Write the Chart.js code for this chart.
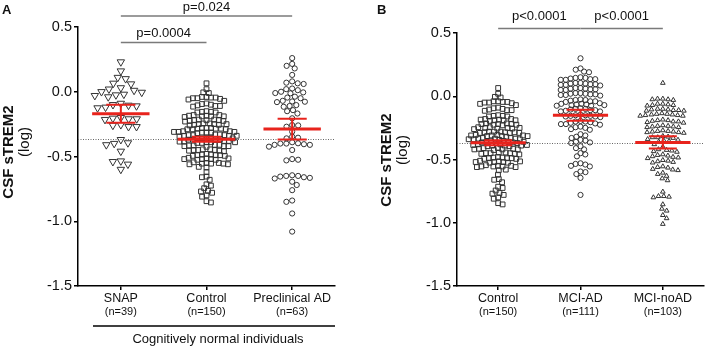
<!DOCTYPE html>
<html>
<head>
<meta charset="utf-8">
<script src="https://cdn.jsdelivr.net/npm/chart.js@4.4.0/dist/chart.umd.min.js"></script>
<style>
  body { margin: 0; background: #fff; width: 709px; height: 347px; position: relative; overflow: hidden; }
  #wrapA { position: absolute; left: 0; top: 0; width: 360px; height: 347px; }
  #wrapB { position: absolute; left: 360px; top: 0; width: 349px; height: 347px; }
</style>
</head>
<body>
<div id="wrapA"><canvas id="chartA"></canvas></div>
<div id="wrapB"><canvas id="chartB"></canvas></div>
<script>
// ================= DATA =================
const catsA = ["SNAP", "Control", "Preclinical AD"];
const nA = ["(n=39)", "(n=150)", "(n=63)"];
const catsB = ["Control", "MCI-AD", "MCI-noAD"];
const nB = ["(n=150)", "(n=111)", "(n=103)"];
const yTicks = [-1.5, -1.0, -0.5, 0.0, 0.5];

// CSF sTREM2 (log), one value per individual
const snap = [0.23, 0.16, 0.11, 0.10, 0.065, 0.06, 0.03, 0.02, 0.01, 0.0, -0.005, -0.02, -0.025, -0.03, -0.04,
  -0.09, -0.10, -0.105, -0.12, -0.125, -0.11, -0.20, -0.205, -0.21, -0.215, -0.21, -0.255, -0.27, -0.27, -0.26,
  -0.37, -0.40, -0.41, -0.395, -0.46, -0.54, -0.535, -0.56, -0.60];

const control = [0.065, 0.02, -0.005, -0.01, -0.07,
  -0.04, -0.045, -0.04, -0.045, -0.05, -0.055, -0.05, -0.06,
  -0.09, -0.095, -0.10, -0.105, -0.11, -0.11, -0.115,
  -0.15, -0.155, -0.155, -0.16, -0.16,
  -0.18, -0.18, -0.185, -0.185, -0.19, -0.19, -0.195, -0.19,
  -0.215, -0.215, -0.22, -0.22, -0.22, -0.225, -0.225, -0.23,
  -0.245, -0.245, -0.25, -0.25, -0.25, -0.255, -0.255, -0.26,
  -0.28, -0.28, -0.28, -0.285, -0.285, -0.285, -0.29, -0.29, -0.29,
  -0.305, -0.305, -0.31, -0.31, -0.31, -0.315, -0.315, -0.315, -0.32,
  -0.33, -0.33, -0.335, -0.335, -0.335, -0.34, -0.34, -0.34, -0.345,
  -0.355, -0.355, -0.36, -0.36, -0.36, -0.365, -0.365, -0.37, -0.37,
  -0.38, -0.38, -0.385, -0.385, -0.39, -0.39, -0.39, -0.395, -0.395,
  -0.41, -0.41, -0.415, -0.415, -0.42, -0.42, -0.42, -0.425,
  -0.445, -0.445, -0.45, -0.45, -0.45, -0.455, -0.455, -0.46,
  -0.48, -0.485, -0.485, -0.49, -0.49, -0.49, -0.495, -0.495,
  -0.51, -0.515, -0.515, -0.52, -0.52, -0.52, -0.525, -0.525,
  -0.545, -0.55, -0.55, -0.555, -0.555, -0.555, -0.56, -0.56,
  -0.58, -0.585, -0.62, -0.655, -0.66, -0.68, -0.715, -0.725, -0.745,
  -0.765, -0.77, -0.78, -0.80, -0.81, -0.845, -0.855];

const preclinical = [0.26, 0.215, 0.20, 0.18, 0.13, 0.08, 0.07, 0.065, 0.06, 0.025, 0.02, 0.012, 0.0, -0.005,
  -0.01, -0.012, -0.038, -0.045, -0.05, -0.07, -0.075, -0.077, -0.08, -0.103, -0.11, -0.116, -0.142, -0.15, -0.168,
  -0.205, -0.257, -0.26, -0.27, -0.308, -0.347, -0.355, -0.36, -0.39, -0.398, -0.40, -0.40, -0.405, -0.41, -0.41,
  -0.424, -0.45, -0.52, -0.525, -0.53, -0.65, -0.65, -0.655, -0.66, -0.665, -0.67, -0.645, -0.695, -0.72, -0.76,
  -0.84, -0.85, -0.94, -1.08];

const mciAD = [0.30, 0.22, 0.21, 0.195, 0.19,
  0.145, 0.145, 0.14, 0.135, 0.135, 0.13, 0.13, 0.15,
  0.105, 0.10, 0.10, 0.095, 0.095, 0.09, 0.09, 0.085, 0.105,
  0.065, 0.06, 0.06, 0.055, 0.055, 0.05, 0.05, 0.065,
  0.025, 0.02, 0.02, 0.015, 0.015, 0.01, 0.01, 0.005, 0.025,
  -0.025, -0.03, -0.03, -0.035, -0.04, -0.04, -0.045,
  -0.055, -0.06, -0.06, -0.065, -0.065, -0.07, -0.07, -0.075, -0.075,
  -0.095, -0.10, -0.10, -0.105, -0.11, -0.11, -0.115, -0.12, -0.12,
  -0.145, -0.15, -0.15, -0.155, -0.155, -0.16, -0.16, -0.165,
  -0.195, -0.20, -0.20, -0.205, -0.21, -0.215, -0.22, -0.22, -0.225,
  -0.24, -0.245, -0.25, -0.26, -0.265, -0.30, -0.31, -0.32, -0.33,
  -0.345, -0.35, -0.36, -0.365, -0.37, -0.395, -0.41, -0.42, -0.45, -0.46, -0.475,
  -0.53, -0.535, -0.54, -0.55, -0.555, -0.595, -0.60, -0.615, -0.645, -0.78];

const mciNoAD = [0.105,
  -0.02, -0.02, -0.025, -0.025, -0.03,
  -0.06, -0.06, -0.065, -0.07, -0.07, -0.075,
  -0.10, -0.10, -0.105, -0.105, -0.11, -0.11, -0.115, -0.115,
  -0.135, -0.14, -0.14, -0.145, -0.145, -0.15, -0.15, -0.155, -0.155,
  -0.185, -0.19, -0.19, -0.195, -0.20, -0.20, -0.205, -0.21,
  -0.23, -0.235, -0.235, -0.24, -0.24, -0.245, -0.245,
  -0.27, -0.275, -0.275, -0.28, -0.28, -0.285, -0.285, -0.29,
  -0.315, -0.32, -0.325, -0.325, -0.33, -0.34, -0.345, -0.35, -0.355, -0.36,
  -0.38, -0.40, -0.42, -0.425, -0.43, -0.435, -0.44,
  -0.46, -0.465, -0.47, -0.475, -0.48, -0.485, -0.49,
  -0.505, -0.51, -0.515, -0.52, -0.525,
  -0.555, -0.56, -0.565, -0.575, -0.58, -0.585,
  -0.605, -0.615, -0.63, -0.65, -0.665,
  -0.755, -0.79, -0.79, -0.795, -0.80,
  -0.855, -0.89, -0.905, -0.94, -0.965, -1.01];

// mean +/- SEM
const meansA = [-0.17, -0.367, -0.288];
const semA = [0.07, 0.02, 0.08];
const meansB = [-0.367, -0.15, -0.365];
const semB = [0.02, 0.043, 0.048];
const refLine = -0.367;

// ================= STYLE =================
const FONT = '"Liberation Sans", Arial, Helvetica, sans-serif';
const RED = "#e8231c";
const INK = "#111";
Chart.defaults.font.family = FONT;
Chart.defaults.color = INK;

// wx / hy = sideways spacing and vertical reach of the swarm packing (px)
const markA = [
  { style: "triangle", rotation: 180, radius: 4.3, wx: 8, hy: 7 },
  { style: "rect", rotation: 0, radius: 3.4, wx: 4.6, hy: 4.5 },
  { style: "circle", rotation: 0, radius: 2.6, wx: 6, hy: 5 }
];
const markB = [
  { style: "rect", rotation: 0, radius: 3.4, wx: 4.6, hy: 4.5 },
  { style: "circle", rotation: 0, radius: 2.6, wx: 5.0, hy: 4.5 },
  { style: "triangle", rotation: 0, radius: 2.7, wx: 5.3, hy: 4.5 }
];

// ================= HELPERS =================
// simple beeswarm: keeps each y, finds the smallest sideways shift that does not overlap
function swarm(vals, g, xs, ys, wx, hy) {
  const py = vals.map(v => ys.getPixelForValue(v));
  const order = py.map((p, i) => i).sort((a, b) => py[a] - py[b]);
  const placed = [];
  const out = new Array(vals.length);
  const cx = xs.getPixelForValue(g);
  let flip = 1;
  order.forEach(i => {
    const y = py[i];
    const blocks = [];
    placed.forEach(q => {
      const dy = Math.abs(q.y - y);
      if (dy < hy) {
        const w = wx * Math.sqrt(1 - (dy * dy) / (hy * hy));
        blocks.push([q.x - w, q.x + w]);
      }
    });
    const cands = [0];
    blocks.forEach(b => cands.push(b[0], b[1]));
    cands.sort((a, b) => Math.abs(a) - Math.abs(b) || flip * (a - b));
    let x = 0;
    for (const c of cands) {
      if (blocks.every(b => c <= b[0] + 1e-6 || c >= b[1] - 1e-6)) { x = c; break; }
    }
    flip = -flip;
    placed.push({ x, y });
    out[i] = xs.getValueForPixel(cx + x);
  });
  return out;
}

function decor(cfg) {
  return {
    id: "decor",
    beforeDatasetsDraw(chart) {
      const { ctx, chartArea: a, scales: { y } } = chart;
      const yy = Math.round(y.getPixelForValue(refLine)) + 0.5;
      ctx.save();
      ctx.strokeStyle = "#666";
      ctx.lineWidth = 1;
      ctx.setLineDash([1, 1.5]);
      ctx.beginPath();
      ctx.moveTo(a.left, yy);
      ctx.lineTo(a.right, yy);
      ctx.stroke();
      ctx.restore();
    },
    afterDatasetsDraw(chart) {
      const { ctx, scales: { x, y } } = chart;
      ctx.save();
      ctx.strokeStyle = RED;
      cfg.means.forEach((m, g) => {
        const s = cfg.sem[g];
        const yl = y.getPixelForValue(m - s), yh = y.getPixelForValue(m + s);
        ctx.lineWidth = 2;
        ctx.beginPath();
        ctx.moveTo(x.getPixelForValue(g), yl);
        ctx.lineTo(x.getPixelForValue(g), yh);
        [yl, yh].forEach(p => {
          ctx.moveTo(x.getPixelForValue(g - 0.17), p);
          ctx.lineTo(x.getPixelForValue(g + 0.17), p);
        });
        ctx.stroke();
        ctx.lineWidth = 3;
        ctx.beginPath();
        ctx.moveTo(x.getPixelForValue(g - 0.335), y.getPixelForValue(m));
        ctx.lineTo(x.getPixelForValue(g + 0.335), y.getPixelForValue(m));
        ctx.stroke();
      });
      ctx.restore();
    },
    afterDraw(chart) {
      const { ctx, scales: { x } } = chart;
      ctx.save();
      ctx.fillStyle = INK;
      ctx.textAlign = "center";
      ctx.textBaseline = "middle";

      // n labels under categories
      ctx.font = "11px " + FONT;
      cfg.n.forEach((t, g) => ctx.fillText(t, x.getPixelForValue(g), 312));

      // p-value brackets
      cfg.pvals.forEach(p => {
        const x1 = x.getPixelForValue(p.from), x2 = x.getPixelForValue(p.to);
        ctx.strokeStyle = "#7a7a7a";
        ctx.lineWidth = 1.3;
        ctx.beginPath();
        ctx.moveTo(x1 + p.trim, p.line);
        ctx.lineTo(x2 - p.trim, p.line);
        ctx.stroke();
        ctx.fillStyle = INK;
        ctx.font = "13px " + FONT;
        ctx.fillText(p.text, p.tx !== undefined ? x.getPixelForValue(p.tx) : (x1 + x2) / 2, p.ty);
      });

      // group line + caption
      if (cfg.group) {
        ctx.strokeStyle = "#000";
        ctx.lineWidth = 1.5;
        ctx.beginPath();
        ctx.moveTo(cfg.group.x1, 326);
        ctx.lineTo(cfg.group.x2, 326);
        ctx.stroke();
        ctx.font = "13px " + FONT;
        ctx.fillText(cfg.group.text, (cfg.group.x1 + cfg.group.x2) / 2 + 4, 339);
      }

      // panel letter
      ctx.textAlign = "left";
      ctx.font = "bold 13px " + FONT;
      ctx.fillText(cfg.letter, cfg.letterX, 10);

      // y title
      ctx.textAlign = "center";
      ctx.translate(cfg.titleX, cfg.titleY);
      ctx.rotate(-Math.PI / 2);
      ctx.font = "bold 15px " + FONT;
      ctx.fillText("CSF sTREM2", 0, 0);
      ctx.font = "15px " + FONT;
      ctx.fillText("(log)", 10, 16);
      ctx.restore();
    }
  };
}

function makePanel(id, cats, groups, marks, cfg) {
  const datasets = groups.map((vals, g) => ({
    data: vals.map(v => ({ x: g, y: v })),
    pointStyle: marks[g].style,
    rotation: marks[g].rotation,
    pointRadius: marks[g].radius,
    borderColor: "#333",
    borderWidth: 1,
    backgroundColor: "rgba(0,0,0,0)",
    showLine: false
  }));

  const chart = new Chart(document.getElementById(id), {
    type: "scatter",
    data: { datasets },
    options: {
      responsive: true,
      maintainAspectRatio: false,
      animation: false,
      events: [],
      layout: { padding: { top: cfg.top, right: cfg.right, left: 0, bottom: 0 } },
      plugins: { legend: { display: false }, tooltip: { enabled: false } },
      scales: {
        x: {
          type: "linear",
          min: -0.5,
          max: 2.5,
          afterBuildTicks: s => { s.ticks = [0, 1, 2].map(v => ({ value: v })); },
          afterFit: s => { s.height = 61; },
          ticks: {
            autoSkip: false,
            maxRotation: 0,
            padding: 1,
            color: INK,
            font: { size: 12.5 },
            callback: v => cats[v]
          },
          grid: { drawOnChartArea: false, tickLength: 4, color: "#000", lineWidth: 1.5 },
          border: { color: "#000", width: 1.5 }
        },
        y: {
          min: -1.5,
          max: 0.5,
          afterBuildTicks: s => { s.ticks = yTicks.map(v => ({ value: v })); },
          afterFit: s => { s.width = cfg.axisW; },
          ticks: {
            padding: 2,
            color: INK,
            font: { size: 14.5 },
            callback: v => v.toFixed(1)
          },
          grid: { drawOnChartArea: false, tickLength: 4, color: "#000", lineWidth: 1.5 },
          border: { color: "#000", width: 1.5 }
        }
      }
    },
    plugins: [decor(cfg)]
  });

  // spread the points sideways once the scales are known
  groups.forEach((vals, g) => {
    const xs = swarm(vals, g, chart.scales.x, chart.scales.y, marks[g].wx, marks[g].hy);
    chart.data.datasets[g].data = vals.map((v, i) => ({ x: xs[i], y: v }));
  });
  chart.update("none");
  return chart;
}

// ================= CHARTS =================
makePanel("chartA", catsA, [snap, control, preclinical], markA, {
  top: 27, right: 25, axisW: 78,
  means: meansA, sem: semA, n: nA,
  letter: "A", letterX: 2,
  titleX: 9, titleY: 152,
  pvals: [
    { from: 0, to: 2, line: 16, ty: 7, text: "p=0.024", trim: 0, tx: 1 },
    { from: 0, to: 1, line: 42.5, ty: 33, text: "p=0.0004", trim: 0 }
  ],
  group: { x1: 93, x2: 335, text: "Cognitively normal individuals" }
});

makePanel("chartB", catsB, [control, mciAD, mciNoAD], markB, {
  top: 33, right: 1, axisW: 97,
  means: meansB, sem: semB, n: nB,
  letter: "B", letterX: 17,
  titleX: 27, titleY: 160,
  pvals: [
    { from: 0, to: 1, line: 28.5, ty: 16.5, text: "p<0.0001", trim: 0 },
    { from: 1, to: 2, line: 28.5, ty: 16.5, text: "p<0.0001", trim: 0 }
  ],
  group: null
});
</script>
</body>
</html>
